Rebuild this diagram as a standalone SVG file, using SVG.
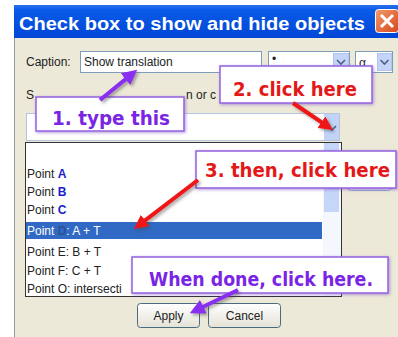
<svg xmlns="http://www.w3.org/2000/svg" width="398" height="337" viewBox="0 0 398 337">
<defs>
<linearGradient id="gTitle" x1="0" y1="0" x2="0" y2="1">
<stop offset="0" stop-color="#2a6ff0"/><stop offset="0.15" stop-color="#0a5ae8"/><stop offset="1" stop-color="#0046d6"/>
</linearGradient>
<linearGradient id="gClose" x1="0" y1="0" x2="1" y2="1">
<stop offset="0" stop-color="#f29a6e"/><stop offset="1" stop-color="#d8461c"/>
</linearGradient>
<linearGradient id="gBtn" x1="0" y1="0" x2="0" y2="1">
<stop offset="0" stop-color="#ffffff"/><stop offset="1" stop-color="#e4e2d6"/>
</linearGradient>
<filter id="fShadow" x="-20%" y="-20%" width="140%" height="140%">
<feDropShadow dx="2" dy="2" stdDeviation="1.5" flood-color="#404040" flood-opacity="0.45"/>
</filter>
<filter id="fGlow" x="-10%" y="-30%" width="120%" height="160%">
<feDropShadow dx="1" dy="1" stdDeviation="1.6" flood-color="#7a50c8" flood-opacity="0.55"/>
</filter>
<marker id="ahRed" viewBox="0 0 10 10" refX="7" refY="5" markerWidth="14" markerHeight="14" markerUnits="userSpaceOnUse" orient="auto">
<path d="M0,0 L10,5 L0,10 z" fill="#ee1515"/>
</marker>
<marker id="ahPur" viewBox="0 0 10 10" refX="7" refY="5" markerWidth="15" markerHeight="15" markerUnits="userSpaceOnUse" orient="auto">
<path d="M0,0 L10,5 L0,10 z" fill="#8a2ef0"/>
</marker>
</defs>
<style>
.ui{font-family:"Liberation Sans",Arial,sans-serif;font-size:12px;fill:#222}
.title{font-family:"Liberation Sans",Arial,sans-serif;font-weight:bold;font-size:19px;fill:#ffffff}
.field{fill:#ffffff;stroke:#7f9db9;stroke-width:1}
.abtn{fill:#c4d4f8;stroke:#b0c4ee;stroke-width:1}
.chev{fill:none;stroke:#4d6185;stroke-width:1.6}
.lbl{fill:#1b1bd0;font-weight:bold}
.callout{fill:#ffffff;stroke:#9a6ae0;stroke-width:1.6;filter:url(#fGlow)}
.ctext{font-family:"DejaVu Sans",Verdana,sans-serif;font-weight:bold;font-size:19px}
.purple{fill:#7a24e6}
.red{fill:#e41818}
.btn{fill:url(#gBtn);stroke:#4a6a80;stroke-width:1}
.arR{fill:none;stroke:#ee1515;stroke-width:4}
.arP{fill:none;stroke:#8a2ef0;stroke-width:4}
</style>
<rect x="0" y="0" width="398" height="337" fill="#ffffff"/>
<g id="window">
<rect x="14" y="5" width="384" height="332" fill="#ece9d8"/>
<line x1="14.5" y1="37" x2="14.5" y2="337" stroke="#9a9a9a" stroke-width="1"/>
<rect x="14" y="5" width="384" height="33" fill="url(#gTitle)"/>
<text class="title" x="19" y="30" textLength="346" lengthAdjust="spacingAndGlyphs">Check box to show and hide objects</text>
<g id="close">
<rect x="375.5" y="9.5" width="23" height="23" rx="3" fill="url(#gClose)" stroke="#ffffff" stroke-width="1"/>
<path d="M381,15 L393,27 M393,15 L381,27" stroke="#ffffff" stroke-width="3" fill="none"/>
</g>
</g>
<g id="caption-row">
<text class="ui" x="26" y="66">Caption:</text>
<rect class="field" x="80.5" y="51.5" width="181" height="21"/>
<text class="ui" x="84" y="66">Show translation</text>
<rect class="field" x="268.5" y="51.5" width="81" height="21"/>
<text class="ui" x="272" y="63">•</text>
<rect class="abtn" x="333.5" y="53.5" width="15" height="17"/>
<path class="chev" d="M337,60 L341,64 L345,60"/>
<rect class="field" x="355.5" y="51.5" width="37" height="21"/>
<text class="ui" x="359" y="67" font-size="11">α</text>
<rect class="abtn" x="377.5" y="53.5" width="14" height="17"/>
<path class="chev" d="M380.5,60 L384.5,64 L388.5,60"/>
</g>
<g id="select-label">
<text class="ui" x="26" y="99">S</text>
<text class="ui" x="186" y="99">n or c</text>
</g>
<g id="combo">
<rect x="26.5" y="113.5" width="313" height="27" fill="#ffffff" stroke="#b4c4dc" stroke-width="1"/>
<rect x="324" y="114" width="15" height="26" fill="#c2d3f7"/>
<path class="chev" d="M328,126 L332,130 L336,126"/>
</g>
<g id="list">
<rect x="25.5" y="142.5" width="316" height="154" fill="#ffffff" stroke="#333333" stroke-width="1"/>
<rect x="323" y="143" width="18" height="153" fill="#f4f7fd"/>
<rect x="324" y="143" width="15" height="69" fill="#c6d6f8"/>
<rect x="26" y="222" width="296" height="17" fill="#316ac5"/>
<text class="ui" x="27" y="178">Point <tspan class="lbl">A</tspan></text>
<text class="ui" x="27" y="196">Point <tspan class="lbl">B</tspan></text>
<text class="ui" x="27" y="214">Point <tspan class="lbl">C</tspan></text>
<text class="ui" x="27" y="235" style="fill:#ffffff">Point <tspan style="fill:#2f4f94" font-weight="bold">D</tspan>: A + T</text>
<text class="ui" x="27" y="256">Point E: B + T</text>
<text class="ui" x="27" y="275">Point F: C + T</text>
<text class="ui" x="27" y="293">Point O: intersecti</text>
</g>
<g id="side-button">
<rect x="346.5" y="165.5" width="46" height="25" rx="5" fill="#dfe4ee" stroke="#8fa3c8" stroke-width="1"/>
</g>
<g id="apply-button">
<rect class="btn" x="137.5" y="303.5" width="62" height="24" rx="3"/>
<text class="ui" x="168.5" y="320" text-anchor="middle">Apply</text>
</g>
<g id="cancel-button">
<rect class="btn" x="208.5" y="303.5" width="72" height="24" rx="3"/>
<text class="ui" x="244.5" y="320" text-anchor="middle">Cancel</text>
</g>
<g id="callout-1">
<rect class="callout" x="36" y="97" width="148" height="34"/>
<text class="ctext purple" x="52" y="125" textLength="118" lengthAdjust="spacingAndGlyphs">1. type this</text>
</g>
<g id="callout-2">
<rect class="callout" x="220" y="66" width="152" height="37"/>
<text class="ctext red" x="233" y="96" textLength="124" lengthAdjust="spacingAndGlyphs">2. click here</text>
</g>
<g id="callout-3">
<rect class="callout" x="196" y="151" width="200" height="37"/>
<text class="ctext red" x="205" y="177" textLength="185" lengthAdjust="spacingAndGlyphs">3. then, click here</text>
</g>
<g id="callout-4">
<rect class="callout" x="132" y="257" width="256" height="36"/>
<text class="ctext purple" x="149" y="286" textLength="224" lengthAdjust="spacingAndGlyphs">When done, click here.</text>
</g>
<g id="connectors" filter="url(#fShadow)">
<path class="arP" d="M100,100 L133.7,72.6" marker-end="url(#ahPur)"/>
<path class="arR" d="M293,103 L329.5,127.7" marker-end="url(#ahRed)"/>
<path class="arR" d="M198,180 L137.3,226.4" marker-end="url(#ahRed)"/>
<path class="arP" d="M238,290 L193.8,311.2" marker-end="url(#ahPur)"/>
</g>
</svg>
